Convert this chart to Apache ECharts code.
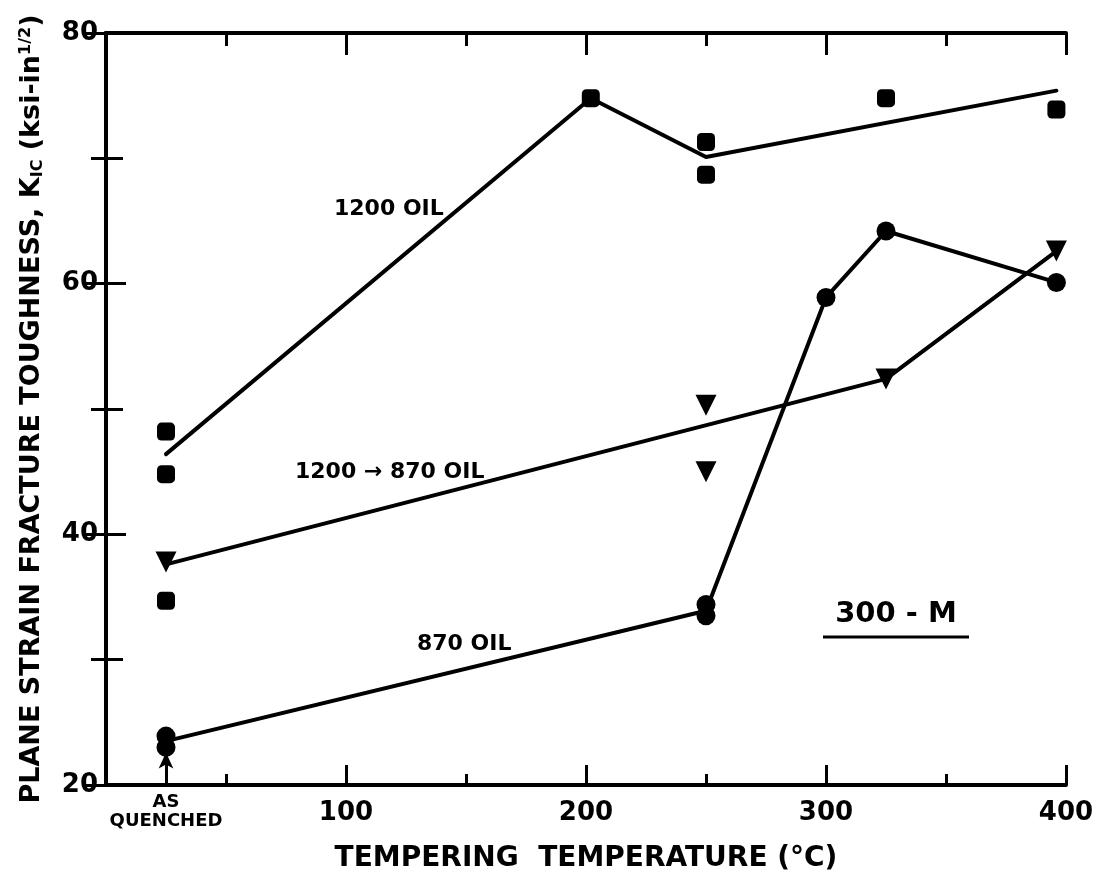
<!DOCTYPE html>
<html>
<head>
<meta charset="utf-8">
<title>300-M Plane Strain Fracture Toughness</title>
<script src="https://cdn.jsdelivr.net/npm/echarts@6/dist/echarts.min.js"></script>
<style>
  html, body { margin: 0; padding: 0; background: #ffffff; }
  #chart { width: 1102px; height: 878px; }
</style>
</head>
<body>
<div id="chart"></div>
<script>
// Tempering temperature (°C); "as quenched" is plotted at room temperature.
const aqTemp = 25;

// 1200 OIL — measured points (squares) and the drawn trend line
const sqTemp = [25, 25, 25, 202, 250, 250, 325, 396];
const sqK    = [48.2, 44.8, 34.7, 74.8, 71.3, 68.7, 74.8, 73.9];
const sqFitTemp = [25, 202, 250, 396];
const sqFitK    = [46.4, 74.8, 70.1, 75.4];

// 1200 -> 870 OIL — measured points (triangles) and trend line
const triTemp = [25, 250, 250, 325, 396];
const triK    = [37.8, 50.3, 45.0, 52.4, 62.6];
const triFitTemp = [25, 325, 396];
const triFitK    = [37.6, 52.4, 62.6];

// 870 OIL — measured points (circles) and trend line
const cirTemp = [25, 25, 250, 250, 300, 325, 396];
const cirK    = [23.9, 23.0, 34.4, 33.5, 58.9, 64.2, 60.1];
const cirFitTemp = [25, 250, 300, 325, 396];
const cirFitK    = [23.5, 33.9, 58.9, 64.2, 60.1];

// Axis tick labels
const xLabelValues = [25, 100, 200, 300, 400];
const xLabelTexts  = ['AS\nQUENCHED', '100', '200', '300', '400'];
const yLabelValues = [20, 40, 60, 80];

// Tip of the "as quenched" arrow
const aqArrowTop = 22.6;

const pairs = (xs, ys) => xs.map((x, i) => [x, ys[i]]);

const FONT = '"DejaVu Sans", "Liberation Sans", sans-serif';
const INK = '#000000';

const chart = echarts.init(document.getElementById('chart'), null, { renderer: 'canvas' });

const axisLineStyle = { color: INK, width: 4 };
const tickStyle = { color: INK, width: 3 };

const lineSeries = (name, xs, ys) => ({
  name: name + ' trend',
  type: 'line',
  data: pairs(xs, ys),
  showSymbol: false,
  symbol: 'none',
  lineStyle: { color: INK, width: 4, cap: 'round', join: 'round' },
  z: 2,
  silent: true
});

const markerSeries = (name, xs, ys, symbol, size, rotate) => ({
  name: name,
  type: 'scatter',
  data: pairs(xs, ys),
  symbol: symbol,
  symbolSize: size,
  symbolRotate: rotate || 0,
  itemStyle: { color: INK, opacity: 1 },
  z: 3
});

const circles = markerSeries('870 OIL', cirTemp, cirK, 'circle', 19);
circles.markLine = {
  silent: true,
  symbol: ['none', 'arrow'],
  symbolSize: [11, 16],
  label: { show: false },
  lineStyle: { color: INK, width: 3, type: 'solid' },
  data: [[{ coord: [aqTemp, yLabelValues[0]] }, { coord: [aqTemp, aqArrowTop] }]]
};

const option = {
  animation: false,
  backgroundColor: '#ffffff',
  grid: { left: 106, right: 36, top: 33, bottom: 91, containLabel: false },
  xAxis: [
    {
      type: 'value',
      position: 'bottom',
      min: 0, max: 400, interval: 100,
      axisLine: { lineStyle: axisLineStyle },
      axisTick: { inside: true, length: 20, lineStyle: tickStyle },
      minorTick: { show: true, splitNumber: 2, length: 11, lineStyle: tickStyle },
      splitLine: { show: false },
      minorSplitLine: { show: false },
      axisLabel: {
        customValues: xLabelValues,
        margin: 8,
        color: INK,
        formatter: function (v) {
          const t = xLabelTexts[xLabelValues.indexOf(v)];
          if (t === undefined) return '';
          if (t.indexOf('\n') >= 0) {
            return t.split('\n').map(s => '{aq|' + s + '}').join('\n');
          }
          return '{n|' + t + '}';
        },
        rich: {
          n: { fontFamily: FONT, fontWeight: 'bold', fontSize: 26, color: INK, lineHeight: 40 },
          aq: { fontFamily: FONT, fontWeight: 'bold', fontSize: 18, color: INK, lineHeight: 19 }
        }
      },
      name: 'TEMPERING  TEMPERATURE (°C)',
      nameLocation: 'middle',
      nameGap: 60,
      nameTextStyle: { fontFamily: FONT, fontWeight: 'bold', fontSize: 28, color: INK }
    },
    {
      type: 'value',
      position: 'top',
      min: 0, max: 400, interval: 100,
      axisLine: { lineStyle: axisLineStyle },
      axisTick: { inside: true, length: 22, lineStyle: tickStyle },
      minorTick: { show: true, splitNumber: 2, length: 13, lineStyle: tickStyle },
      splitLine: { show: false },
      axisLabel: { show: false }
    }
  ],
  yAxis: [
    {
      type: 'value',
      position: 'left',
      min: yLabelValues[0], max: yLabelValues[yLabelValues.length - 1], interval: 20,
      axisLine: { lineStyle: axisLineStyle },
      axisTick: { show: true, inside: true, length: 20, lineStyle: tickStyle },
      minorTick: { show: true, splitNumber: 2, length: 17, lineStyle: tickStyle },
      splitLine: { show: false },
      minorSplitLine: { show: false },
      axisLabel: {
        margin: 8,
        color: INK,
        fontFamily: FONT,
        fontWeight: 'bold',
        fontSize: 26
      },
      name: 'PLANE STRAIN FRACTURE TOUGHNESS, K{sub|IC} (ksi-in{sup|1/2})',
      nameLocation: 'middle',
      nameRotate: 90,
      nameGap: 60,
      nameTextStyle: {
        fontFamily: FONT, fontWeight: 'bold', fontSize: 27, color: INK,
        rich: {
          sub: { fontFamily: FONT, fontWeight: 'bold', fontSize: 16, color: INK, verticalAlign: 'bottom', padding: [10, 0, 0, 0] },
          sup: { fontFamily: FONT, fontWeight: 'bold', fontSize: 16, color: INK, verticalAlign: 'top', padding: [0, 0, 12, 0] }
        }
      }
    },
    {
      type: 'value',
      position: 'right',
      min: 20, max: 80, interval: 20,
      axisLine: { lineStyle: axisLineStyle },
      axisTick: { inside: true, length: 21, lineStyle: tickStyle },
      minorTick: { show: true, splitNumber: 2, length: 15, lineStyle: tickStyle },
      splitLine: { show: false },
      axisLabel: { show: false }
    }
  ],
  series: [
    lineSeries('1200 OIL', sqFitTemp, sqFitK),
    lineSeries('1200 → 870 OIL', triFitTemp, triFitK),
    lineSeries('870 OIL', cirFitTemp, cirFitK),
    markerSeries('1200 OIL', sqTemp, sqK, 'roundRect', 18),
    markerSeries('1200 → 870 OIL', triTemp, triK, 'triangle', 21, 180),
    circles
  ],
  graphic: [
    {
      type: 'text', silent: true,
      style: { x: 334, y: 209, text: '1200 OIL', fill: INK, font: 'bold 22px ' + FONT, textAlign: 'left', textVerticalAlign: 'middle' }
    },
    {
      type: 'text', silent: true,
      style: { x: 295, y: 472, text: '1200 → 870 OIL', fill: INK, font: 'bold 22px ' + FONT, textAlign: 'left', textVerticalAlign: 'middle' }
    },
    {
      type: 'text', silent: true,
      style: { x: 417, y: 644, text: '870 OIL', fill: INK, font: 'bold 22px ' + FONT, textAlign: 'left', textVerticalAlign: 'middle' }
    },
    {
      type: 'text', silent: true,
      style: { x: 896, y: 614, text: '300 - M', fill: INK, font: 'bold 29px ' + FONT, textAlign: 'center', textVerticalAlign: 'middle' }
    },
    {
      type: 'line', silent: true,
      shape: { x1: 823, y1: 637, x2: 969, y2: 637 },
      style: { stroke: INK, lineWidth: 3 }
    }
  ]
};

chart.setOption(option);
</script>
</body>
</html>
